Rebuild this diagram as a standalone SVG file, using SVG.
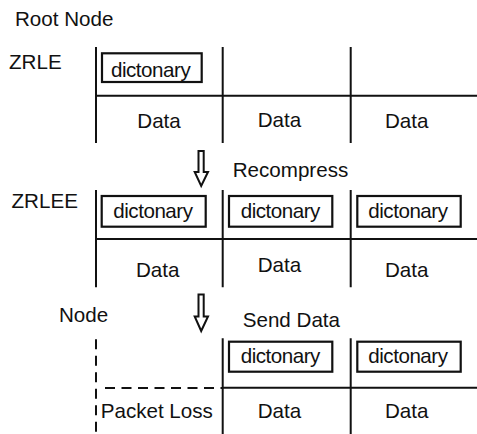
<svg xmlns="http://www.w3.org/2000/svg" width="477" height="434" viewBox="0 0 477 434">
<style>
text{font-family:"Liberation Sans",Arial,Helvetica,sans-serif;font-size:20.6px;fill:#111}
.ln{stroke:#111;stroke-width:2;fill:none}
.dash{stroke:#111;stroke-width:2;fill:none;stroke-dasharray:10 6.5}
.box{stroke:#111;stroke-width:2.2;fill:#fff}
.arr{stroke:#111;stroke-width:2;fill:#fff;stroke-linejoin:miter}
</style>
<rect width="477" height="434" fill="#fff"/>
<g id="labels">
<text x="15" y="26">Root Node</text>
<text x="9" y="68.5">ZRLE</text>
<text x="11.5" y="208.3">ZRLEE</text>
<text x="59" y="322.3">Node</text>
<text x="232.7" y="177.3">Recompress</text>
<text x="242.7" y="326.7">Send Data</text>
</g>
<g id="zrle">
<path class="ln" d="M96,47V143M222.7,47V143M350.7,47V143M96,95.7H477"/>
<rect class="box" x="102" y="53.3" width="99.7" height="28.7"/>
<text x="111" y="76.7" textLength="79.7">dictonary</text>
<text x="137.3" y="127.7">Data</text>
<text x="257.7" y="126.5">Data</text>
<text x="385" y="128">Data</text>
</g>
<g id="zrlee">
<path class="ln" d="M96,190V287.3M222.7,190V287.3M350.7,190V287.3M96,239H477"/>
<rect class="box" x="101.7" y="196" width="104" height="30.7"/>
<rect class="box" x="229" y="196" width="103.3" height="30.7"/>
<rect class="box" x="357.3" y="196" width="103.4" height="30.7"/>
<text x="113.3" y="217.7" textLength="79.7">dictonary</text>
<text x="240.7" y="217.7" textLength="79.7">dictonary</text>
<text x="368.3" y="217.7" textLength="79.7">dictonary</text>
<text x="136" y="276.7">Data</text>
<text x="257.7" y="272.3">Data</text>
<text x="385" y="276.7">Data</text>
</g>
<g id="node">
<path class="dash" d="M96,339.3V434M105,388H222.7"/>
<path class="ln" d="M222.7,338.3V434M350.7,338.3V434M222.7,387.7H477"/>
<rect class="box" x="229" y="341.7" width="103.3" height="30"/>
<rect class="box" x="357.3" y="341.7" width="103.4" height="30"/>
<text x="240.7" y="363.3" textLength="79.7">dictonary</text>
<text x="368.3" y="363.3" textLength="79.7">dictonary</text>
<text x="100.7" y="418.3">Packet Loss</text>
<text x="257.7" y="417.7">Data</text>
<text x="385" y="418">Data</text>
</g>
<g id="connectors">
<path class="arr" d="M198.5,151H203.7V172H208L201.2,186L194.7,172H198.5Z"/>
<path class="arr" d="M198.5,294.5H203.7V316.5H208L201.2,331L194.7,316.5H198.5Z"/>
</g>
</svg>
